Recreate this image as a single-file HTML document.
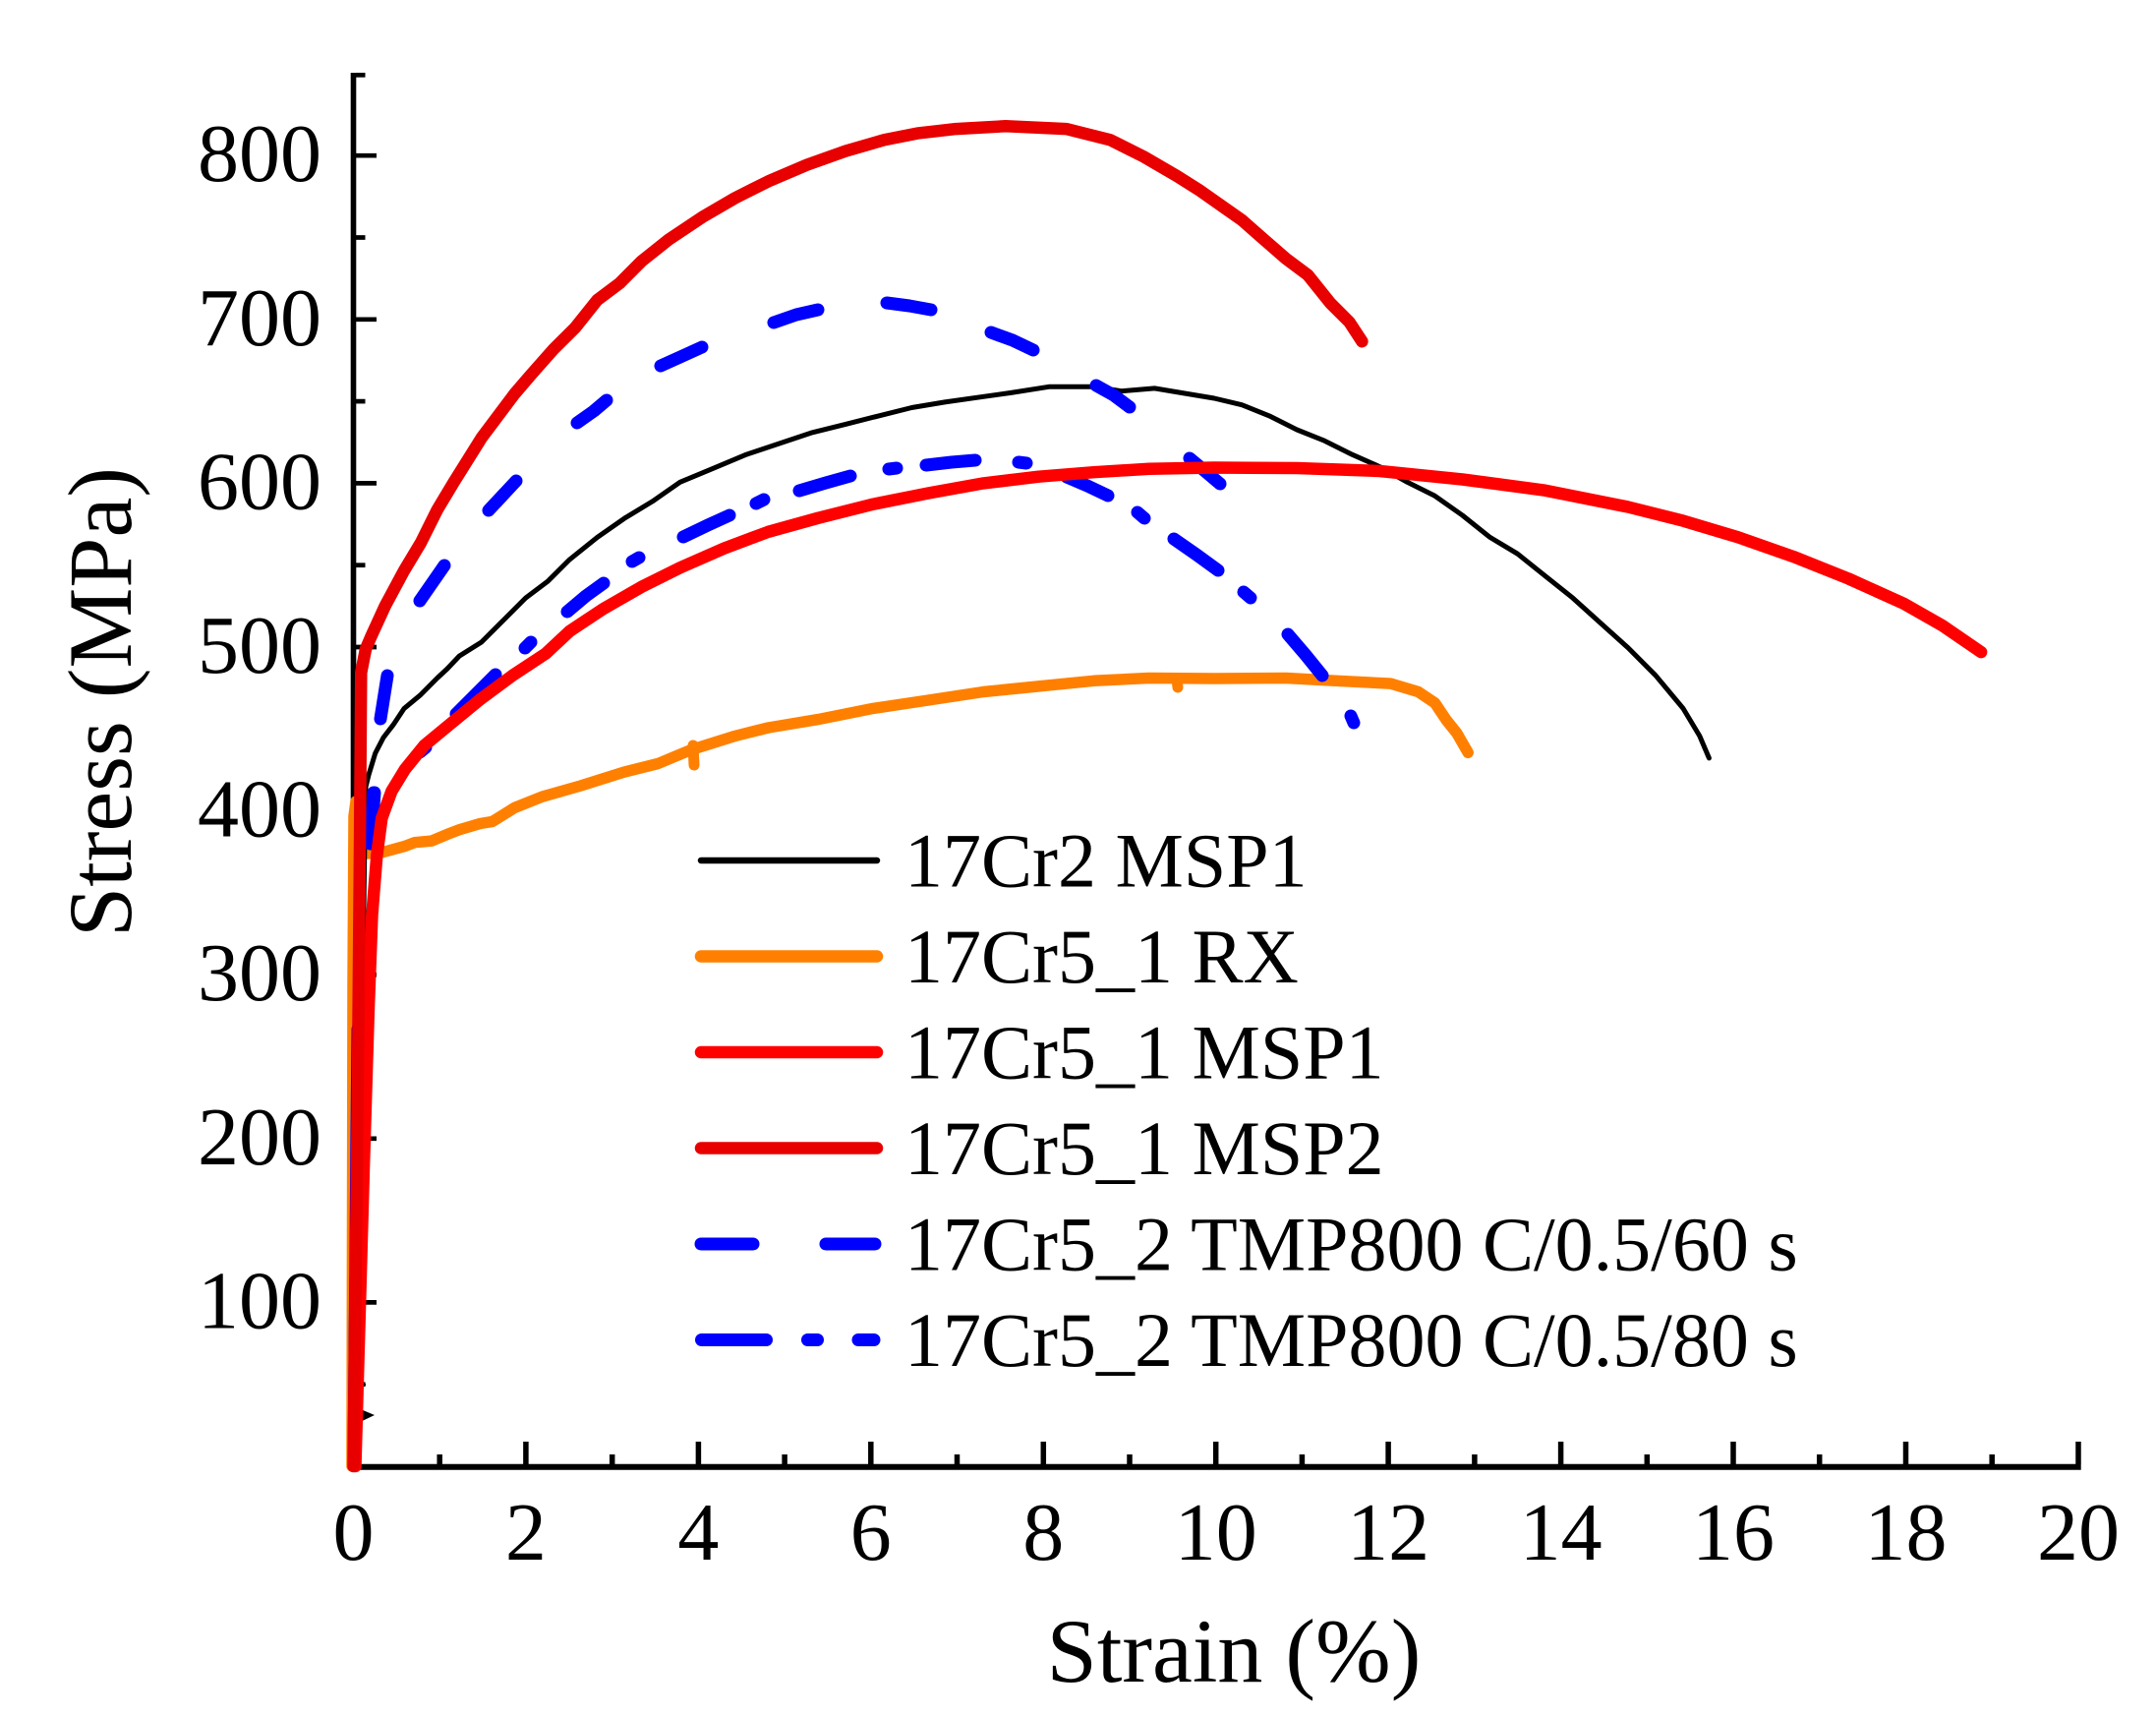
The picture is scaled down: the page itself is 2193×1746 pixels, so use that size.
<!DOCTYPE html>
<html>
<head>
<meta charset="utf-8">
<style>
html,body{margin:0;padding:0;background:#fff;}
svg{display:block;}
text{font-family:"Liberation Serif","Times New Roman",serif;fill:#000;}
</style>
</head>
<body>
<svg width="2193" height="1746" viewBox="0 0 2193 1746" xmlns="http://www.w3.org/2000/svg">
<rect width="2193" height="1746" fill="#fff"/>

<!-- Axes -->
<g stroke="#000" fill="none">
  <line x1="359.5" y1="74" x2="359.5" y2="1494.7" stroke-width="5.6"/>
  <line x1="356.7" y1="1491.7" x2="2116.7" y2="1491.7" stroke-width="6"/>
  <!-- y ticks -->
  <g stroke-width="4.7">
    <line x1="362" y1="1407.7" x2="371.5" y2="1407.7"/>
    <line x1="362" y1="1324.4" x2="383" y2="1324.4"/>
    <line x1="362" y1="1241.1" x2="371.5" y2="1241.1"/>
    <line x1="362" y1="1157.8" x2="383" y2="1157.8"/>
    <line x1="362" y1="1074.5" x2="371.5" y2="1074.5"/>
    <line x1="362" y1="991.2" x2="383" y2="991.2"/>
    <line x1="362" y1="907.9" x2="371.5" y2="907.9"/>
    <line x1="362" y1="824.6" x2="383" y2="824.6"/>
    <line x1="362" y1="741.3" x2="371.5" y2="741.3"/>
    <line x1="362" y1="658" x2="383" y2="658"/>
    <line x1="362" y1="574.7" x2="371.5" y2="574.7"/>
    <line x1="362" y1="491.4" x2="383" y2="491.4"/>
    <line x1="362" y1="408.1" x2="371.5" y2="408.1"/>
    <line x1="362" y1="324.8" x2="383" y2="324.8"/>
    <line x1="362" y1="241.5" x2="371.5" y2="241.5"/>
    <line x1="362" y1="158.2" x2="383" y2="158.2"/>
    <line x1="362" y1="76.3" x2="371.5" y2="76.3"/>
  </g>
  <!-- x ticks -->
  <g stroke-width="5.5">
    <line x1="447.2" y1="1489" x2="447.2" y2="1479"/>
    <line x1="534.9" y1="1489" x2="534.9" y2="1466"/>
    <line x1="622.7" y1="1489" x2="622.7" y2="1479"/>
    <line x1="710.4" y1="1489" x2="710.4" y2="1466"/>
    <line x1="798.1" y1="1489" x2="798.1" y2="1479"/>
    <line x1="885.8" y1="1489" x2="885.8" y2="1466"/>
    <line x1="973.5" y1="1489" x2="973.5" y2="1479"/>
    <line x1="1061.3" y1="1489" x2="1061.3" y2="1466"/>
    <line x1="1149" y1="1489" x2="1149" y2="1479"/>
    <line x1="1236.7" y1="1489" x2="1236.7" y2="1466"/>
    <line x1="1324.4" y1="1489" x2="1324.4" y2="1479"/>
    <line x1="1412.1" y1="1489" x2="1412.1" y2="1466"/>
    <line x1="1499.9" y1="1489" x2="1499.9" y2="1479"/>
    <line x1="1587.6" y1="1489" x2="1587.6" y2="1466"/>
    <line x1="1675.3" y1="1489" x2="1675.3" y2="1479"/>
    <line x1="1763" y1="1489" x2="1763" y2="1466"/>
    <line x1="1850.7" y1="1489" x2="1850.7" y2="1479"/>
    <line x1="1938.5" y1="1489" x2="1938.5" y2="1466"/>
    <line x1="2026.2" y1="1489" x2="2026.2" y2="1479"/>
    <line x1="2114" y1="1489" x2="2114" y2="1466"/>
  </g>
</g>

<!-- Tick labels -->
<g font-size="84" text-anchor="end">
  <text x="327" y="1350.4">100</text>
  <text x="327" y="1183.8">200</text>
  <text x="327" y="1017.2">300</text>
  <text x="327" y="850.6">400</text>
  <text x="327" y="684">500</text>
  <text x="327" y="517.4">600</text>
  <text x="327" y="350.8">700</text>
  <text x="327" y="184.2">800</text>
</g>
<g font-size="84" text-anchor="middle">
  <text x="359.5" y="1586">0</text>
  <text x="534.9" y="1586">2</text>
  <text x="710.4" y="1586">4</text>
  <text x="885.8" y="1586">6</text>
  <text x="1061.3" y="1586">8</text>
  <text x="1236.7" y="1586">10</text>
  <text x="1412.1" y="1586">12</text>
  <text x="1587.6" y="1586">14</text>
  <text x="1763" y="1586">16</text>
  <text x="1938.5" y="1586">18</text>
  <text x="2114" y="1586">20</text>
</g>

<!-- Axis titles -->
<text x="1255" y="1710" font-size="92" text-anchor="middle">Strain (%)</text>
<text transform="translate(133,714) rotate(-90)" font-size="92" text-anchor="middle">Stress (MPa)</text>

<!-- Curves -->
<g fill="none" stroke-linecap="round" stroke-linejoin="round">
  <!-- Orange RX -->
  <path stroke="#ff8000" stroke-width="11.5" d="M358,1491 L359,1000 L360,830 L362,815 L366,848 L372,868 L388,867 L411.1,860.7 L421.7,856.7 L439.2,855.1 L455,848.4 L467.2,843.8 L488.3,837.5 L500.9,835.4 L523.4,821.4 L551.4,810.2 L590.7,799 L635.6,784.9 L669.3,776.5 L702.9,762.5 L747.8,748.4 L781.5,740 L832,731.6 L888.1,720.4 L944.3,712 L1000.4,703.5 L1056.5,697.9 L1112.6,692.3 L1168.7,689.5 L1235,690 L1308,689.5 L1358.5,692.3 L1414.6,695.1 L1442.6,703.5 L1459.5,714.8 L1470.7,731.6 L1481.9,745.6 L1493.2,765.3"/>
  <line stroke="#ff8000" stroke-width="11" x1="705" y1="758" x2="706" y2="778"/>
  <line stroke="#ff8000" stroke-width="11" x1="1197" y1="690" x2="1198" y2="699"/>

  <!-- Black 17Cr2 MSP1 -->
  <path stroke="#000" stroke-width="5" d="M361,1447 L364,1300 L367,1100 L369,996 L371,850 L372,800 L375,788 L381.7,766 L390,750 L399.9,737.2 L411.1,720.4 L428,706.4 L444.8,689.5 L455,680 L467.2,667.1 L489.7,653 L512.1,630.6 L534.6,608.1 L557,591.3 L579.5,568.9 L607.5,546.4 L635.6,526.8 L663.6,509.9 L691.7,490.3 L725.4,476.3 L759.1,462.2 L792.7,451 L826.4,439.8 L860.1,431.4 L893.8,422.9 L927.4,414.5 L961.1,408.9 L1000.4,403.3 L1028.4,399.4 L1067.7,393.2 L1112.6,393.2 L1140.7,397.7 L1174.4,394.9 L1208,400.5 L1235,405 L1263.1,411.7 L1291.1,422.9 L1319.2,437 L1347.2,448.2 L1375.3,462.2 L1403.4,474.6 L1431.4,490.3 L1459.5,504.3 L1487.5,524 L1515.6,546.4 L1543.6,563.2 L1571.7,585.7 L1599.8,608.1 L1627.8,633.4 L1655.9,658.6 L1683.9,686.7 L1712,720.4 L1728.8,748.4 L1738.4,770.9"/>
  <polygon fill="#000" stroke="none" points="362,1431 381,1439 362,1448"/>
  <line stroke="#000" stroke-width="4" x1="363" y1="1408" x2="370" y2="1408"/>

  <!-- Blue elastic part -->
  <path stroke="#0000ff" stroke-width="9" d="M358,1491 L361,1150 L362,1046"/>

  <!-- Blue dashed 60 s -->
  <g stroke="#0000ff" stroke-width="13">
    <path d="M377,858 L380,806"/>
    <path d="M387,731 L394,687"/>
    <path d="M427,611 L452,575"/>
    <path d="M497,519 L525,489"/>
    <path d="M587,430 L604,418 L617,407"/>
    <path d="M672,372 L692,363 L714,353"/>
    <path d="M787,328 L810,320 L832,315"/>
    <path d="M902,308 L925,311 L947,315"/>
    <path d="M1008,338 L1030,346 L1051,356"/>
    <path d="M1115,392 L1133,402 L1149,414"/>
    <path d="M1210,466 L1228,481 L1241,492"/>
  </g>

  <!-- Blue dash-dot 80 s -->
  <g stroke="#0000ff" stroke-width="13">
    <path d="M377,858 L381,806"/>
    <path d="M427,765 L433,760"/>
    <path d="M464,726 L485,705 L504,686"/>
    <path d="M534,659 L540,653"/>
    <path d="M577,622 L596,606 L614,593"/>
    <path d="M643,571 L650,567"/>
    <path d="M695,546 L720,534 L742,524"/>
    <path d="M769,512 L777,508"/>
    <path d="M813,499 L840,491 L865,484"/>
    <path d="M904,477 L912,476"/>
    <path d="M942,473 L968,470 L992,468"/>
    <path d="M1036,470 L1044,471"/>
    <path d="M1085,485 L1106,494 L1127,504"/>
    <path d="M1157,521 L1164,527"/>
    <path d="M1194,548 L1217,564 L1239,580"/>
    <path d="M1265,602 L1272,608"/>
    <path d="M1310,645 L1328,666 L1345,687"/>
    <path d="M1374,728 L1377,735"/>
  </g>

  <!-- Red lower (MSP1 legend colour) -->
  <path stroke="#ff0000" stroke-width="12.5" d="M361.5,1491 L370,1188 L375,1024 L378.5,930 L383.3,870 L388.3,832 L398.3,804.6 L411.7,782.6 L431.7,757.9 L455,738.7 L488.3,711.3 L521.7,686.6 L555,664.7 L579.5,641.8 L613.2,619.4 L652.4,596.9 L691.7,577.3 L736.6,557.6 L781.5,540.8 L832,526.8 L888.1,512.7 L944.3,501.5 L1000.4,491.4 L1056.5,484.7 L1112.6,480.2 L1168.7,476.8 L1235,475.5 L1319.2,476 L1403.4,479 L1487.5,487.5 L1571.7,498.7 L1655.9,515.5 L1712,529.6 L1768.1,546.4 L1824.3,566.1 L1880.4,588.5 L1936.5,613.8 L1975.8,636.2 L2015.1,663.1"/>

  <!-- Red top (darker) -->
  <path stroke="#e80000" stroke-width="12.5" d="M359.5,1491 L364,1100 L366.5,800 L367.3,684 L372,660 L377.4,647.4 L391.5,616.6 L411.1,580.1 L428,552 L444.8,518.3 L461.6,490.3 L475.7,467.8 L489.7,445.4 L506.5,423 L523.4,400.5 L540.2,380.9 L562.6,355.6 L585.1,333.2 L607.5,305.1 L630,288.3 L652.4,265.8 L680.5,243.4 L714.2,220.9 L747.8,201.3 L781.5,184.4 L820.8,167.6 L860.1,153.6 L899.4,142.3 L933,135.6 L972.3,131.1 L1022.8,128.3 L1084.6,131.1 L1129.4,142.3 L1163.1,159.2 L1196.8,178.8 L1219.2,192.9 L1235,204 L1263.1,223.7 L1285.5,243.4 L1308,263 L1330.4,279.8 L1352.9,307.9 L1372.5,327.5 L1385.4,347.2"/>
</g>

<!-- Legend -->
<g fill="none" stroke-linecap="round">
  <line x1="713" y1="875" x2="892" y2="875" stroke="#000" stroke-width="6.5"/>
  <line x1="713" y1="972.5" x2="892" y2="972.5" stroke="#ff8000" stroke-width="12.5"/>
  <line x1="713" y1="1070" x2="892" y2="1070" stroke="#ff0000" stroke-width="12.5"/>
  <line x1="713" y1="1167.5" x2="892" y2="1167.5" stroke="#e80000" stroke-width="12.5"/>
  <line x1="713" y1="1265" x2="766" y2="1265" stroke="#0000ff" stroke-width="13"/>
  <line x1="840" y1="1265" x2="890" y2="1265" stroke="#0000ff" stroke-width="13"/>
  <line x1="713.5" y1="1362.5" x2="779.5" y2="1362.5" stroke="#0000ff" stroke-width="13"/>
  <line x1="821.5" y1="1362.5" x2="831.5" y2="1362.5" stroke="#0000ff" stroke-width="13"/>
  <line x1="873" y1="1362.5" x2="889" y2="1362.5" stroke="#0000ff" stroke-width="13"/>
</g>
<g font-size="78">
  <text x="920" y="901.7">17Cr2 MSP1</text>
  <text x="920" y="999.2">17Cr5_1 RX</text>
  <text x="920" y="1096.7">17Cr5_1 MSP1</text>
  <text x="920" y="1194.2">17Cr5_1 MSP2</text>
  <text x="920" y="1291.7">17Cr5_2 TMP800 C/0.5/60 s</text>
  <text x="920" y="1389.2">17Cr5_2 TMP800 C/0.5/80 s</text>
</g>
</svg>
</body>
</html>
